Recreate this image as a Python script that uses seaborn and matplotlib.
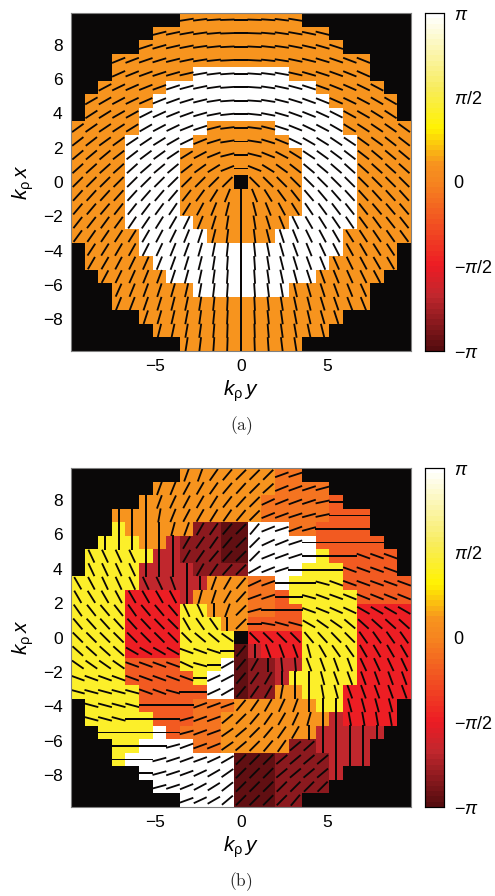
import numpy as np
import matplotlib
matplotlib.use("Agg")
import matplotlib.pyplot as plt
from matplotlib.colors import LinearSegmentedColormap
import seaborn as sns

sns.set_theme(style="white")
plt.rcParams['font.family'] = ['Liberation Sans', 'DejaVu Sans']
plt.rcParams['mathtext.fontset'] = 'custom'
plt.rcParams['mathtext.rm'] = 'Liberation Sans'
plt.rcParams['mathtext.it'] = 'Liberation Sans:italic'

# phase level of each cell ('.' = no data)
levels = dict(W=1.0, Y=0.42, O=0.11, D=-0.08, F=-0.2, R=-0.48, C=-0.68, M=-0.84, K=-0.95)

phase_a = [
    "........OOOOOOOOO........",
    "......OOOOOOOOOOOOO......",
    ".....OOOOOOOOOOOOOOO.....",
    "...OOOOOOOOOOOOOOOOOOO...",
    "...OOOOOOWWWWWWWOOOOOO...",
    "..OOOOOWWWWWWWWWWWOOOOO..",
    ".OOOOOWWWWWWWWWWWWWOOOOO.",
    ".OOOOWWWWWWWWWWWWWWWOOOO.",
    "OOOOOWWWWWOOOOOWWWWWOOOOO",
    "OOOOWWWWWOOOOOOOWWWWWOOOO",
    "OOOOWWWWOOOOOOOOOWWWWOOOO",
    "OOOOWWWWOOOOOOOOOWWWWOOOO",
    "OOOOWWWWOOOO.OOOOWWWWOOOO",
    "OOOOWWWWOOOOOOOOOWWWWOOOO",
    "OOOOWWWWOOOOOOOOOWWWWOOOO",
    "OOOOWWWWWOOOOOOOWWWWWOOOO",
    "OOOOOWWWWWOOOOOWWWWWOOOOO",
    ".OOOOWWWWWWWWWWWWWWWOOOO.",
    ".OOOOOWWWWWWWWWWWWWOOOOO.",
    "..OOOOOWWWWWWWWWWWOOOOO..",
    "...OOOOOOWWWWWWWOOOOOO...",
    "...OOOOOOOOOOOOOOOOOOO...",
    ".....OOOOOOOOOOOOOOO.....",
    "......OOOOOOOOOOOOO......",
    "........OOOOOOOOO........",
]

phase_b = [
    "........OOOOOOODD........",
    "......OOOOOOOOODDDD......",
    ".....OOOOOOOOODDDDDF.....",
    "...OOOOOOOOOOODDDDDFFF...",
    "...YOOOOOMMKKWWWDDFFFF...",
    "..YYYOOCMMMKKWWWWWFFFFF..",
    ".YYYYYCCMMMKKWWWWWYFFFFF.",
    ".YYYYCCCCMMMMWWWWYYYFFFF.",
    "YYYYYCCCCCOOODDWYYYYFFFFF",
    "YYYYRRRRCOOOODDFYYYYYFFFF",
    "YYYYRRRRYYOOODDFFYYYYRRRR",
    "YYYYRRRRYYYOOFFFFYYYYRRRR",
    "YYYYRRRRYYYY.RRRRYYYYRRRR",
    "YYYYRRRRYYYYKCRRRYYYYRRRR",
    "YYYYFFFFYYYWKMMCCYYYYRRRR",
    "YYYYFFFFFYWWKMMCYYYYYRRRR",
    "YYYYYFFFFFWWKMMOOYYYRRRRR",
    ".YYYYFFFFDDDOOOOOOYYRRRR.",
    ".YYYYYFFFDDOOOOOOOOCRRRR.",
    "..YYYYWFDDDOOOOOOOCCCCC..",
    "...YYWWWWDDOOOOOMMCCCC...",
    "...YWWWWWWWWKKKMMMMCCC...",
    ".....WWWWWWWKKKMMMMC.....",
    "......WWWWWWKKKMMMM......",
    "........WWWWKKKMM........",
]

# line angle in degrees, left half of panel (a), right half is its mirror
angle_a_left = [
    [22, 21, 20, 18, 17, 15, 13, 11, 9, 7, 4, 2, 0],
    [24, 22, 21, 20, 18, 16, 14, 12, 10, 8, 5, 2, 0],
    [25, 24, 22, 21, 20, 18, 16, 13, 11, 8, 6, 3, 0],
    [26, 25, 24, 22, 21, 19, 17, 14, 12, 9, 6, 3, 0],
    [28, 27, 26, 24, 22, 20, 18, 16, 13, 10, 7, 4, 0],
    [30, 29, 28, 26, 24, 22, 20, 18, 15, 12, 8, 4, 0],
    [32, 30, 30, 28, 26, 24, 22, 20, 17, 14, 9, 4, 0],
    [34, 33, 32, 30, 29, 27, 25, 22, 20, 16, 11, 6, 0],
    [36, 35, 34, 33, 32, 30, 28, 26, 22, 18, 14, 7, 0],
    [38, 38, 36, 36, 34, 34, 32, 30, 26, 22, 17, 9, 0],
    [40, 40, 40, 38, 38, 37, 36, 34, 32, 28, 22, 14, 0],
    [42, 42, 42, 42, 42, 41, 40, 40, 38, 36, 32, 22, 0],
    [45, 45, 45, 45, 45, 45, 45, 45, 45, 45, 45, 45, 0],
    [48, 48, 48, 48, 48, 49, 50, 50, 52, 54, 58, 68, 90],
    [50, 50, 50, 52, 52, 53, 54, 56, 58, 62, 68, 76, 90],
    [52, 52, 54, 54, 56, 56, 58, 60, 64, 68, 73, 81, 90],
    [54, 55, 56, 57, 58, 60, 62, 64, 68, 72, 76, 83, 90],
    [56, 57, 58, 60, 61, 63, 65, 68, 70, 74, 79, 84, 90],
    [58, 60, 60, 62, 64, 66, 68, 70, 73, 76, 81, 86, 90],
    [60, 61, 62, 64, 66, 68, 70, 72, 75, 78, 82, 86, 90],
    [62, 63, 64, 66, 68, 70, 72, 74, 77, 80, 83, 86, 90],
    [64, 65, 66, 68, 69, 71, 73, 76, 78, 81, 84, 87, 90],
    [65, 66, 68, 69, 70, 72, 74, 77, 79, 82, 84, 87, 90],
    [66, 68, 69, 70, 72, 74, 76, 78, 80, 82, 85, 88, 90],
    [68, 69, 70, 72, 73, 75, 77, 79, 81, 83, 86, 88, 90],
]

angle_b = [
    [0, 0, 0, 0, 0, 0, 0, 0, 70, 70, 55, 50, 45, 45, 45, 20, 18, 0, 0, 0, 0, 0, 0, 0, 0],
    [0, 0, 0, 0, 0, 0, 70, 68, 62, 60, 55, 50, 48, 45, 42, 22, 20, 18, 15, 0, 0, 0, 0, 0, 0],
    [0, 0, 0, 0, 0, 90, 70, 65, 62, 60, 58, 52, 48, 45, 25, 22, 20, 18, 12, 0, 0, 0, 0, 0, 0],
    [0, 0, 0, 90, 90, 90, 80, 68, 62, 60, 58, 55, 50, 45, 22, 20, 18, 15, 12, 0, 0, 0, 0, 0, 0],
    [0, 0, 0, 90, 90, 90, 90, 75, 70, 60, 55, 50, 45, 50, 22, 18, 20, 15, 0, 0, 0, 0, 0, 0, 0],
    [0, 0, 90, 90, 90, 90, 90, 90, 60, 55, 55, 50, 45, 45, 25, 22, 18, 0, 0, 0, 0, 0, 0, 0, 0],
    [0, -65, -65, -65, -65, 90, 90, 90, 60, 55, 50, 48, 45, 45, 22, 20, 18, 0, 0, 0, 0, -20, -20, -20, 0],
    [0, -65, -65, -65, -65, 90, 90, 90, 90, 60, 55, 48, 45, 30, 22, 18, 0, 0, 0, 0, -20, -20, -20, -20, 0],
    [-60, -62, -65, -65, -65, -65, -65, -70, 90, 90, 70, 60, 50, 25, 20, 0, 0, 0, -15, -20, -20, -20, -20, -20, -20],
    [-60, -58, -60, -62, -60, -60, -60, -62, 90, 75, 72, 60, 48, 20, 18, 0, 0, -15, -20, -20, -22, -22, -22, -22, -22],
    [-55, -52, -50, -52, -55, -50, -50, -50, -65, -65, 90, 70, 45, 15, 0, 0, 0, -20, -22, -24, -25, -30, -30, -30, -30],
    [-50, -48, -48, -48, -48, -47, -46, -45, -60, -55, -55, 90, 45, 0, -10, -15, -15, -30, -35, -35, -40, -42, -42, -42, -42],
    [-45, -45, -45, -45, -45, -45, -45, -45, -45, -40, -40, -35, 0, -45, -45, -45, -45, -50, -48, -46, -45, -55, -55, -55, -55],
    [-42, -42, -42, -42, -30, -30, -30, -30, -20, -20, -18, 0, 50, 90, -70, -70, -70, -75, -60, -55, -55, -60, -60, -60, -60],
    [-35, -35, -35, -35, -20, -20, -20, -20, -25, -15, 0, 30, 50, 60, 90, -85, -85, -70, -70, -70, -70, -65, -65, -65, -65],
    [-20, -20, -20, -20, -20, -20, -20, -20, -20, 0, 25, 28, 50, 55, 60, 90, 90, 90, -75, -70, -70, -70, -70, -70, -70],
    [-15, -15, -15, -15, -15, -20, -20, -15, 0, 0, 25, 30, 50, 55, 60, 80, 90, 90, -80, -75, -70, -70, -70, -70, -70],
    [0, -15, -15, -15, -15, 0, 0, 0, 0, 20, 20, 20, 50, 55, 60, 65, 70, 90, 90, 90, -75, -75, -75, -75, 0],
    [0, -15, -15, -15, 0, 0, 0, 0, 15, 20, 20, 40, 45, 50, 55, 60, 65, 75, 90, 90, -80, -80, -80, -80, 0],
    [0, 0, 0, 0, 0, 0, 0, 0, 15, 20, 20, 35, 40, 45, 50, 55, 60, 90, 90, 90, 90, 90, 90, 0, 0],
    [0, 0, 0, 0, 0, 0, 0, 15, 20, 20, 22, 35, 40, 45, 50, 55, 40, 42, 90, 90, 90, 90, 0, 0, 0],
    [0, 0, 0, 0, 0, 0, 15, 18, 20, 20, 25, 30, 45, 45, 45, 40, 40, 40, 40, 90, 90, 90, 0, 0, 0],
    [0, 0, 0, 0, 0, 0, 15, 18, 20, 25, 30, 35, 45, 45, 45, 40, 40, 40, 40, 90, 0, 0, 0, 0, 0],
    [0, 0, 0, 0, 0, 0, 15, 18, 22, 28, 32, 38, 45, 45, 45, 45, 45, 45, 45, 0, 0, 0, 0, 0, 0],
    [0, 0, 0, 0, 0, 0, 0, 0, 20, 25, 30, 40, 45, 45, 45, 45, 50, 0, 0, 0, 0, 0, 0, 0, 0],
]

x_ticks = [-5, 0, 5]
y_ticks = [8, 6, 4, 2, 0, -2, -4, -6, -8]
cbar_ticks = [-np.pi, -np.pi / 2, 0, np.pi / 2, np.pi]
cbar_labels = [r'$-\pi$', r'$-\pi/2$', '0', r'$\pi/2$', r'$\pi$']

cmap = LinearSegmentedColormap.from_list("phase", [
    (0.00, "#560c0f"), (0.16, "#c1272d"), (0.25, "#ed1c24"),
    (0.50, "#f6851f"), (0.555, "#f7931e"), (0.66, "#fff200"),
    (0.78, "#f8ec5c"), (1.00, "#ffffff")], N=64)

W, H = 495, 896
CELL = 0.788


def to_grid(rows):
    return np.array([[levels.get(ch, 0.0) * np.pi for ch in row] for row in rows])


def panel(rows, angles, top, bottom, caption):
    ax = fig.add_axes([71 / W, 1 - bottom / H, 340 / W, (bottom - top) / H])
    cax = fig.add_axes([425 / W, 1 - bottom / H, 19 / W, (bottom - top) / H])
    mask = np.array([[ch == '.' for ch in row] for row in rows])
    ax.set_facecolor("#0a0808")
    sns.heatmap(to_grid(rows), mask=mask, cmap=cmap, vmin=-np.pi, vmax=np.pi, ax=ax,
                cbar_ax=cax, xticklabels=False, yticklabels=False, linewidths=0,
                cbar_kws={'ticks': cbar_ticks})
    # line marks, one for each cell that has data
    rr, cc = np.where(~mask)
    ang = np.radians(np.asarray(angles, dtype=float))[rr, cc]
    ax.quiver(cc + 0.5, rr + 0.5, 1.05 * np.cos(ang), -1.05 * np.sin(ang), angles='xy',
              scale_units='xy', scale=1, pivot='mid', units='xy', width=0.135, headwidth=1,
              headlength=0, headaxislength=0, color='#0a0808')
    ax.set_xticks(12.5 + np.array(x_ticks) / CELL)
    ax.set_xticklabels([str(t).replace('-', '\u2212') for t in x_ticks])
    ax.set_yticks(12.5 - np.array(y_ticks) / CELL)
    ax.set_yticklabels([str(t).replace('-', '\u2212') for t in y_ticks], rotation=0)
    ax.tick_params(length=0, labelsize=12.5, pad=6, colors='black')
    ax.set_xlabel(r'$k_{\mathrm{\rho}}\,y$', fontsize=15, labelpad=3, color='black')
    ax.set_ylabel(r'$k_{\mathrm{\rho}}\,x$', fontsize=15, labelpad=5, color='black')
    for s in ax.spines.values():
        s.set_visible(True)
        s.set_color('#808080')
        s.set_linewidth(0.8)
    cax.set_yticklabels(cbar_labels)
    cax.tick_params(length=3, width=0.7, direction='in', left=True, right=True,
                    labelsize=13, pad=7, colors='black')
    for s in cax.spines.values():
        s.set_visible(True)
        s.set_color('black')
        s.set_linewidth(0.8)
    fig.text(241 / W, 1 - (bottom + 75) / H, caption, ha='center', va='center',
             fontsize=12.5, math_fontfamily='cm')


fig = plt.figure(figsize=(W / 100, H / 100), dpi=100)
angle_a = np.hstack([np.array(angle_a_left), -np.array(angle_a_left)[:, -2::-1]])
panel(phase_a, angle_a, 13, 351, r'$\mathrm{(a)}$')
panel(phase_b, angle_b, 468, 807, r'$\mathrm{(b)}$')
fig.savefig("out.png", dpi=100)
